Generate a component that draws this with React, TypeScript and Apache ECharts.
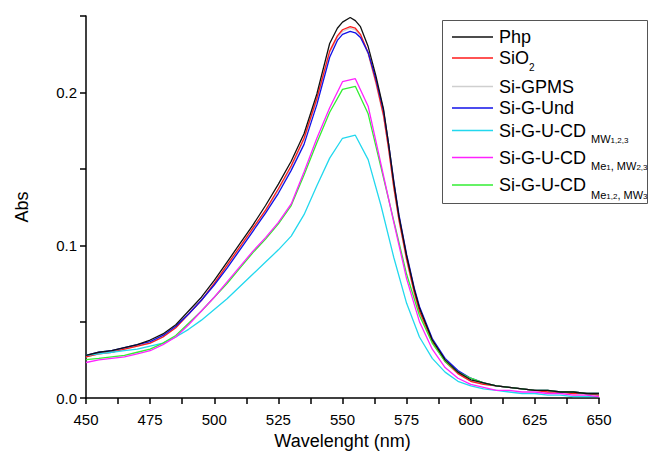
import React, { useEffect, useRef } from "react";
import * as echarts from "echarts";

const wlFine = [450,455,460,465,470,475,480,485,490,495,500,505,510,515,520,525,530,535,540,545,548,550,553,555,557,560,563,566,568,570,572,575,578,580,585,590,595,600,605,610,615,620,625,630,635,640,645,650];
const php = [0.028,0.030,0.031,0.033,0.035,0.038,0.042,0.048,0.057,0.066,0.077,0.089,0.101,0.113,0.126,0.140,0.155,0.173,0.199,0.232,0.242,0.246,0.249,0.247,0.243,0.230,0.211,0.189,0.166,0.141,0.119,0.093,0.071,0.059,0.038,0.025,0.017,0.012,0.010,0.008,0.007,0.006,0.005,0.005,0.004,0.004,0.003,0.003];
const sio2 = [0.027,0.029,0.030,0.032,0.034,0.036,0.040,0.046,0.055,0.064,0.075,0.087,0.099,0.111,0.123,0.137,0.152,0.170,0.196,0.227,0.237,0.241,0.243,0.242,0.238,0.226,0.207,0.185,0.163,0.138,0.117,0.091,0.069,0.057,0.037,0.024,0.016,0.011,0.009,0.008,0.007,0.006,0.005,0.004,0.004,0.003,0.003,0.002];
const gpms = [0.027,0.029,0.030,0.032,0.034,0.036,0.040,0.046,0.055,0.064,0.075,0.086,0.098,0.110,0.122,0.136,0.151,0.169,0.195,0.226,0.236,0.240,0.242,0.241,0.237,0.225,0.206,0.184,0.162,0.137,0.116,0.090,0.068,0.056,0.036,0.024,0.016,0.011,0.009,0.008,0.007,0.006,0.005,0.004,0.004,0.003,0.003,0.002];
const und = [0.028,0.030,0.031,0.033,0.035,0.037,0.041,0.047,0.055,0.064,0.074,0.085,0.097,0.109,0.121,0.134,0.149,0.166,0.192,0.223,0.234,0.238,0.240,0.239,0.236,0.226,0.209,0.188,0.166,0.142,0.120,0.094,0.072,0.060,0.039,0.026,0.018,0.013,0.010,0.008,0.007,0.006,0.005,0.005,0.004,0.004,0.003,0.003];

const wl5 = [450,455,460,465,470,475,480,485,490,495,500,505,510,515,520,525,530,535,540,545,550,555,560,565,570,575,580,585,590,595,600,605,610,615,620,625,630,635,640,645,650];
const cdMW = [0.028,0.029,0.030,0.031,0.032,0.034,0.036,0.040,0.045,0.051,0.058,0.065,0.073,0.081,0.089,0.097,0.106,0.120,0.139,0.157,0.170,0.172,0.156,0.126,0.092,0.062,0.040,0.026,0.017,0.011,0.008,0.006,0.005,0.004,0.003,0.003,0.002,0.002,0.001,0.001,0.001];
const cdMe1 = [0.0233,0.025,0.026,0.027,0.029,0.031,0.035,0.040,0.048,0.057,0.066,0.076,0.086,0.096,0.105,0.115,0.127,0.148,0.170,0.190,0.207,0.209,0.191,0.153,0.115,0.078,0.050,0.032,0.020,0.013,0.009,0.007,0.005,0.005,0.004,0.004,0.003,0.003,0.002,0.002,0.001];
const cdMe12 = [0.0252,0.026,0.027,0.028,0.030,0.032,0.036,0.041,0.049,0.057,0.066,0.075,0.085,0.095,0.104,0.114,0.126,0.146,0.167,0.187,0.202,0.204,0.186,0.151,0.116,0.081,0.054,0.036,0.024,0.017,0.013,0.010,0.008,0.007,0.006,0.005,0.005,0.004,0.004,0.003,0.003];

const seriesNames = ["Php", "SiO2", "Si-GPMS", "Si-G-Und", "Si-G-U-CD MW1,2,3", "Si-G-U-CD Me1, MW2,3", "Si-G-U-CD Me1,2, MW3"];
const legendMain = ["Php", "SiO", "Si-GPMS", "Si-G-Und", "Si-G-U-CD", "Si-G-U-CD", "Si-G-U-CD"];
const colors = ["#111111", "#ff1a1a", "#cfcfcf", "#1010e8", "#22d8ee", "#ff22ff", "#33ee33"];

const FONT = "'Liberation Sans', Arial, sans-serif";

export default function App() {
  const ref = useRef<HTMLDivElement>(null);
  useEffect(() => {
    if (!ref.current) return;
    const chart = echarts.init(ref.current, null, { renderer: "svg" });
    const pairs = (xs: number[], ys: number[]) => xs.map((x, i) => [x, ys[i]]);
    const datasets = [
      pairs(wlFine, php),
      pairs(wlFine, sio2),
      pairs(wlFine, gpms),
      pairs(wlFine, und),
      pairs(wl5, cdMW),
      pairs(wl5, cdMe1),
      pairs(wl5, cdMe12),
    ];
    const drawOrder = [2, 1, 3, 4, 6, 5, 0];
    const series = drawOrder.map((i, k) => ({
      name: seriesNames[i],
      type: "line",
      data: datasets[i],
      showSymbol: false,
      symbol: "none",
      z: 2 + k,
      lineStyle: { color: colors[i], width: 1.3 },
    }));

    const rowY = [37, 58, 86.5, 108, 130.5, 157.5, 185];
    const graphics: any[] = [
      {
        type: "rect",
        shape: { x: 442.5, y: 20.5, width: 205, height: 183 },
        style: { fill: "#fff", stroke: "#555", lineWidth: 1 },
        z: 100,
      },
    ];
    rowY.forEach((y, i) => {
      graphics.push({
        type: "line",
        shape: { x1: 452, y1: y, x2: 493, y2: y },
        style: { stroke: colors[i], lineWidth: 1.3 },
        z: 101,
      });
      graphics.push({
        type: "text",
        x: 499,
        y: y,
        style: { text: legendMain[i], fontSize: 18, fontFamily: FONT, fill: "#000", verticalAlign: "middle" },
        z: 101,
      });
    });
    graphics.push({
      type: "text",
      x: 529,
      y: 67,
      style: { text: "2", fontSize: 10, fontFamily: FONT, fill: "#000", verticalAlign: "middle" },
      z: 101,
    });
    const subs = [
      { y: 138.5, parts: [["a", "MW"], ["b", "1,2,3"]] },
      { y: 166, parts: [["a", "Me"], ["b", "1"], ["a", ", MW"], ["b", "2,3"]] },
      { y: 194.5, parts: [["a", "Me"], ["b", "1,2"], ["a", ", MW"], ["b", "3"]] },
    ];
    subs.forEach((s) => {
      graphics.push({
        type: "text",
        x: 591,
        y: s.y,
        style: {
          text: s.parts.map((p) => `{${p[0]}|${p[1]}}`).join(""),
          fontFamily: FONT,
          fill: "#000",
          verticalAlign: "middle",
          rich: {
            a: { fontSize: 11, fontFamily: FONT, fill: "#000", verticalAlign: "bottom" },
            b: { fontSize: 8, fontFamily: FONT, fill: "#000", verticalAlign: "bottom" },
          },
        },
        z: 101,
      });
    });

    chart.setOption({
      animation: false,
      backgroundColor: "#fff",
      grid: { left: 86, right: 50, top: 16, bottom: 56, containLabel: false },
      xAxis: {
        type: "value",
        min: 450,
        max: 650,
        interval: 12.5,
        name: "Wavelenght (nm)",
        nameLocation: "middle",
        nameGap: 33,
        nameTextStyle: { fontSize: 18, fontFamily: FONT, color: "#000" },
        axisLine: { lineStyle: { color: "#000", width: 1.5 } },
        axisTick: { inside: false, length: 6, lineStyle: { color: "#000", width: 1.5 } },
        axisLabel: {
          fontSize: 15,
          fontFamily: FONT,
          color: "#000",
          margin: 14,
          formatter: (v: number) => (Math.abs(v / 25 - Math.round(v / 25)) < 1e-6 ? String(Math.round(v)) : ""),
        },
        splitLine: { show: false },
      },
      yAxis: {
        type: "value",
        min: 0,
        max: 0.25,
        interval: 0.05,
        name: "Abs",
        nameLocation: "middle",
        nameGap: 55,
        nameTextStyle: { fontSize: 18, fontFamily: FONT, color: "#000" },
        axisLine: { show: true, lineStyle: { color: "#000", width: 1.5 } },
        axisTick: { show: true, inside: false, length: 6, lineStyle: { color: "#000", width: 1.5 } },
        axisLabel: {
          fontSize: 15,
          fontFamily: FONT,
          color: "#000",
          margin: 9,
          formatter: (v: number) => (Math.abs(v * 10 - Math.round(v * 10)) < 1e-6 ? v.toFixed(1) : ""),
        },
        splitLine: { show: false },
      },
      series,
      graphic: graphics,
    });
    return () => chart.dispose();
  }, []);
  return <div ref={ref} style={{ position: "fixed", left: 0, top: 0, width: 649, height: 455 }} />;
}
